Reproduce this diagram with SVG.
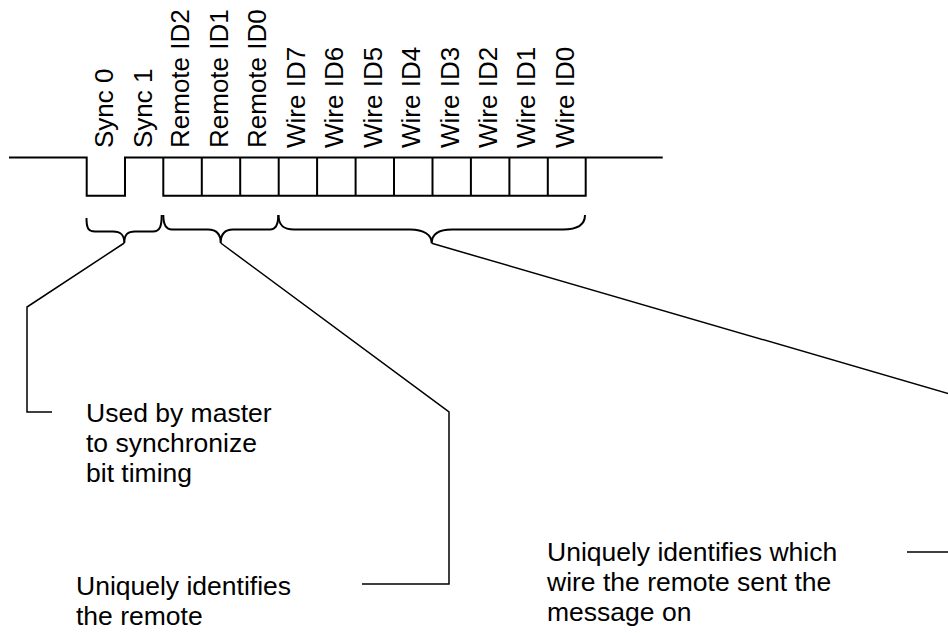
<svg xmlns="http://www.w3.org/2000/svg" width="948" height="633" viewBox="0 0 948 633">
<style>
.lbl{font-family:"Liberation Sans",Arial,sans-serif;font-size:26px;fill:#000}
.txt{font-family:"Liberation Sans",Arial,sans-serif;font-size:26.5px;fill:#000}
.wave{fill:none;stroke:#000;stroke-width:2}
.brace{fill:none;stroke:#000;stroke-width:2}
.conn{fill:none;stroke:#000;stroke-width:1.5}
</style>
<rect width="948" height="633" fill="#fff"/>
<g id="waveform">
<path class="wave" d="M9,157.5 H86.7 V195.7 H125 V157.5 H163.3 V195.7 H585.7 V157.5 M163.3,157.5 H662.7"/>
<path class="wave" d="M201.8,157.5 V195.7 M240.2,157.5 V195.7 M278.7,157.5 V195.7 M317.1,157.5 V195.7 M355.6,157.5 V195.7 M394,157.5 V195.7 M432.5,157.5 V195.7 M470.9,157.5 V195.7 M509.4,157.5 V195.7 M547.8,157.5 V195.7"/>
</g>
<g id="labels">
<text class="lbl" transform="translate(113,148) rotate(-90)">Sync 0</text>
<text class="lbl" transform="translate(151.5,148) rotate(-90)">Sync 1</text>
<text class="lbl" transform="translate(189.3,148) rotate(-90)">Remote ID2</text>
<text class="lbl" transform="translate(227.8,148) rotate(-90)">Remote ID1</text>
<text class="lbl" transform="translate(266.2,148) rotate(-90)">Remote ID0</text>
<text class="lbl" transform="translate(304.7,148) rotate(-90)">Wire ID7</text>
<text class="lbl" transform="translate(343.1,148) rotate(-90)">Wire ID6</text>
<text class="lbl" transform="translate(381.6,148) rotate(-90)">Wire ID5</text>
<text class="lbl" transform="translate(420,148) rotate(-90)">Wire ID4</text>
<text class="lbl" transform="translate(458.5,148) rotate(-90)">Wire ID3</text>
<text class="lbl" transform="translate(496.9,148) rotate(-90)">Wire ID2</text>
<text class="lbl" transform="translate(535.4,148) rotate(-90)">Wire ID1</text>
<text class="lbl" transform="translate(573.8,148) rotate(-90)">Wire ID0</text>
</g>
<g id="brace-sync">
<path class="brace" d="M86.5,218 C86.5,228 88,231.5 95,231.5 L113,231.5 C120,231.5 124.3,234 124.3,243 C124.3,234 128,231.5 135,231.5 L153,231.5 C160,231.5 161.7,226 161.7,215"/>
</g>
<g id="brace-remote">
<path class="brace" d="M163.3,215 C163.3,225 166,229.5 172,229.5 L208,229.5 C216,229.5 220.7,234 220.7,243 C220.7,234 225,229.5 233,229.5 L270,229.5 C276,229.5 278.3,225 278.3,215"/>
</g>
<g id="brace-wire">
<path class="brace" d="M278.5,215 C278.5,225 283,229.5 294,229.5 L410,229.5 C424,229.5 431.7,235 431.7,243.3 C431.7,235 438,229.5 452,229.5 L563,229.5 C578,229.5 585,224 585,215"/>
</g>
<g id="note-sync">
<text class="txt" x="86" y="422">Used by master</text>
<text class="txt" x="86" y="452">to synchronize</text>
<text class="txt" x="86" y="482">bit timing</text>
</g>
<g id="note-remote">
<text class="txt" x="76" y="595">Uniquely identifies</text>
<text class="txt" x="76" y="625">the remote</text>
</g>
<g id="note-wire">
<text class="txt" x="547" y="561">Uniquely identifies which</text>
<text class="txt" x="547" y="591">wire the remote sent the</text>
<text class="txt" x="547" y="621">message on</text>
</g>
<g id="connectors">
<path class="conn" d="M124.3,243 L27,307 V412 H52"/>
<path class="conn" d="M220.7,243 L449,412 V584 H362"/>
<path class="conn" d="M431.7,243.3 L950,394"/>
<path class="conn" d="M907,552 H950"/>
</g>
</svg>
